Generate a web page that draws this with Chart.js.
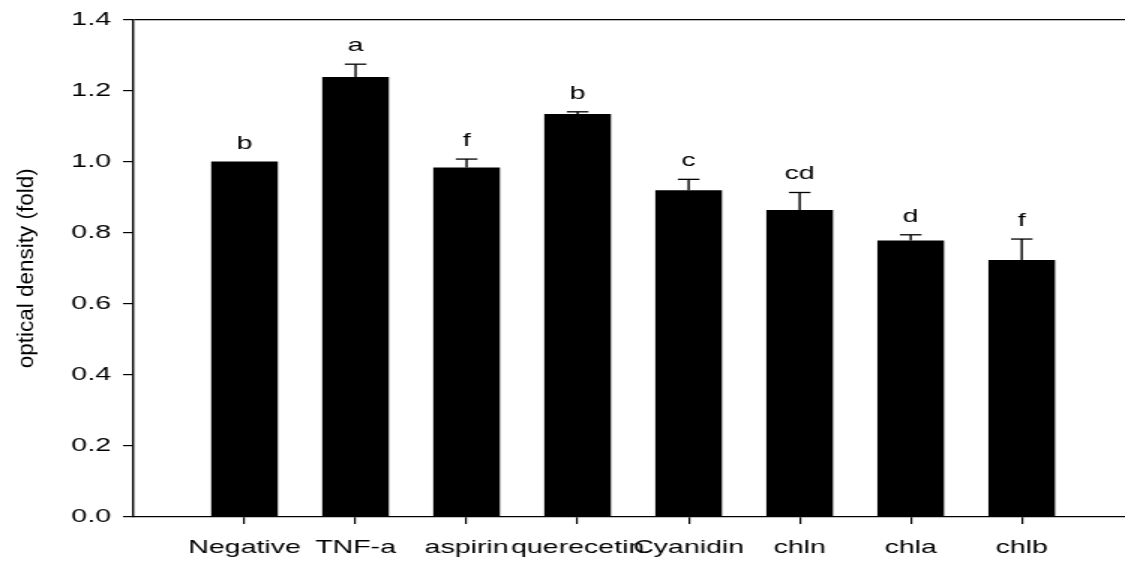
<!DOCTYPE html>
<html>
<head>
<meta charset="utf-8">
<script src="https://cdn.jsdelivr.net/npm/chart.js@4.4.1/dist/chart.umd.min.js"></script>
<style>
  html, body { margin: 0; padding: 0; background: #fff; overflow: hidden; }
  /* the source picture is stretched sideways, so draw narrow and stretch */
  #wrap { width: 750px; height: 561px; transform: scaleX(1.5); transform-origin: 0 0; }
</style>
</head>
<body>
<div id="wrap"><canvas id="chart" width="750" height="561"></canvas></div>
<script>
const categories = ["Negative", "TNF-a", "aspirin", "querecetin", "Cyanidin", "chln", "chla", "chlb"];
const values = [1.0, 1.238, 0.983, 1.134, 0.919, 0.864, 0.778, 0.723];
const errors = [0, 0.036, 0.024, 0.006, 0.031, 0.049, 0.016, 0.059];
const letters = ["b", "a", "f", "b", "c", "cd", "d", "f"];
const yTicks = [0, 0.2, 0.4, 0.6, 0.8, 1.0, 1.2, 1.4];
const yTitle = "optical density (fold)";

const fam = '"Liberation Sans", Arial, sans-serif';

// error bars (upper only) + significance letters
const errorBars = {
    id: "errorBars",
    afterDatasetsDraw(chart) {
        const ctx = chart.ctx;
        const y = chart.scales.y;
        const meta = chart.getDatasetMeta(0);
        ctx.save();
        ctx.strokeStyle = "#000";
        ctx.fillStyle = "#000";
        meta.data.forEach((bar, i) => {
            const top = y.getPixelForValue(values[i] + errors[i]);
            if (errors[i] > 0) {
                ctx.lineWidth = 1.4;
                ctx.beginPath();
                ctx.moveTo(bar.x, bar.y);
                ctx.lineTo(bar.x, top);
                ctx.stroke();
                ctx.lineWidth = 1.3;
                ctx.beginPath();
                ctx.moveTo(bar.x - 7.2, top);
                ctx.lineTo(bar.x + 7.2, top);
                ctx.stroke();
            }
            ctx.font = "19px " + fam;
            ctx.textAlign = "center";
            ctx.textBaseline = "alphabetic";
            ctx.fillText(letters[i], bar.x, top - 13);
        });
        ctx.restore();
    }
};

// rotated y title, stretched along its length like the original
const yTitlePlugin = {
    id: "yTitle",
    afterDraw(chart) {
        const ctx = chart.ctx;
        const area = chart.chartArea;
        ctx.save();
        ctx.translate(17.5, (area.top + area.bottom) / 2);
        ctx.rotate(-Math.PI / 2);
        ctx.scale(1.5, 1);
        ctx.font = "15px " + fam;
        ctx.fillStyle = "#000";
        ctx.textAlign = "center";
        ctx.textBaseline = "middle";
        ctx.fillText(yTitle, 0, 0);
        ctx.restore();
    }
};

const ctx = document.getElementById("chart").getContext("2d");
new Chart(ctx, {
    type: "bar",
    data: {
        datasets: [{
            data: values.map((v, i) => ({ x: i + 1, y: v })),
            backgroundColor: "#000",
            borderWidth: 0,
            barPercentage: 0.6,
            categoryPercentage: 1.0
        }]
    },
    options: {
        responsive: false,
        animation: false,
        layout: { padding: { top: 19, right: 0, bottom: 0, left: 0 } },
        plugins: {
            legend: { display: false },
            tooltip: { enabled: false }
        },
        scales: {
            x: {
                type: "linear",
                offset: false,
                min: 0,
                max: 8.93,
                afterBuildTicks: s => { s.ticks = categories.map((c, i) => ({ value: i + 1 })); },
                afterFit: s => { s.height = 44; },
                grid: { offset: false, drawOnChartArea: false, color: "#000", tickLength: 7, lineWidth: 1.2 },
                border: { color: "#000", width: 1.2 },
                ticks: {
                    autoSkip: false,
                    maxRotation: 0,
                    padding: 12,
                    color: "#000",
                    font: { family: fam, size: 19 },
                    callback: v => categories[v - 1] || ""
                }
            },
            y: {
                min: 0,
                max: 1.4,
                afterBuildTicks: s => { s.ticks = yTicks.map(v => ({ value: v })); },
                afterFit: s => { s.width = 89; },
                grid: {
                    color: c => (c.tick && c.tick.value > 1.39) ? "#000" : "rgba(0,0,0,0)",
                    tickColor: "#000",
                    tickLength: 7,
                    lineWidth: 1.2
                },
                border: { color: "#000", width: 1.4 },
                ticks: {
                    padding: 8,
                    color: "#000",
                    font: { family: fam, size: 19 },
                    callback: v => v.toFixed(1)
                }
            }
        }
    },
    plugins: [errorBars, yTitlePlugin]
});
</script>
</body>
</html>
